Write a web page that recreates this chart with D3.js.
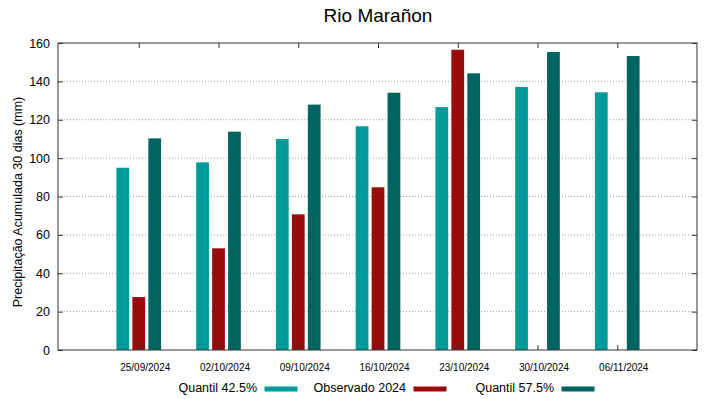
<!DOCTYPE html>
<html><head><meta charset="utf-8">
<script src="https://cdn.jsdelivr.net/npm/d3@7"></script>
<style>body{margin:0;background:#fff;} text{font-family:"Liberation Sans",Arial,sans-serif;}</style>
</head><body>
<svg id="c" width="719" height="399"></svg>
<script>
const categories = ["25/09/2024","02/10/2024","09/10/2024","16/10/2024","23/10/2024","30/10/2024","06/11/2024"];
const q425 = [95.0, 97.8, 110.0, 116.6, 126.6, 137.1, 134.3];
const obs2024 = [27.6, 53.0, 70.7, 84.8, 156.5, null, null];
const q575 = [110.3, 113.8, 127.9, 134.1, 144.2, 155.3, 153.2];
const yTicks = [0,20,40,60,80,100,120,140,160];
const seriesNames = ["Quantil 42.5%","Observado 2024","Quantil 57.5%"];
const colors = ["#009a9a","#990c0c","#006561"];

const svg = d3.select("#c");
const L=58, R=697, T=43, B=350;
const x = d3.scaleLinear().domain([-1,7]).range([59,697]);
const y = d3.scaleLinear().domain([0,160]).range([B,T]);

// grid
svg.append("g").selectAll("line").data(yTicks.filter(d=>d>0&&d<160)).join("line")
  .attr("x1",L).attr("x2",R).attr("y1",d=>y(d)).attr("y2",d=>y(d))
  .attr("stroke","#a0a0a0").attr("stroke-width",1).attr("stroke-dasharray","1,2");

const series=[q425,obs2024,q575];
const offs=[-0.2,0,0.2];
const bw = x(0.16)-x(0);
series.forEach((s,k)=>{
  svg.append("g").selectAll("rect").data(s.map((v,i)=>({v,i})).filter(d=>d.v!=null)).join("rect")
    .attr("x",d=>x(d.i+offs[k])-bw/2).attr("width",bw)
    .attr("y",d=>y(d.v)).attr("height",d=>y(0)-y(d.v))
    .attr("fill",colors[k]);
});

// axes
const yl = d3.axisLeft(y).tickValues(yTicks).tickSize(-5).tickPadding(8);
const gy = svg.append("g").attr("transform",`translate(${L},0)`).call(yl);
gy.selectAll("text").attr("font-size",12.5).attr("fill","#000");
const yr = d3.axisRight(y).tickValues(yTicks).tickSize(-5).tickFormat("");
svg.append("g").attr("transform",`translate(${R},0)`).call(yr);
const xb = d3.axisBottom(x).tickValues(d3.range(categories.length)).tickSize(-5).tickPadding(14).tickFormat(i=>categories[i]);
const gx = svg.append("g").attr("transform",`translate(0,${B})`).call(xb);
gx.selectAll("text").attr("font-size",10).attr("fill","#000").attr("dx",6);
const xt = d3.axisTop(x).tickValues(d3.range(categories.length)).tickSize(-5).tickFormat("");
svg.append("g").attr("transform",`translate(0,${T})`).call(xt);
svg.selectAll(".domain").remove();
svg.selectAll(".tick line").attr("stroke","#333");
svg.append("rect").attr("x",L).attr("y",T).attr("width",R-L).attr("height",B-T)
  .attr("fill","none").attr("stroke","#333").attr("stroke-width",1);

// title
svg.append("text").attr("x",378).attr("y",22).attr("text-anchor","middle").attr("font-size",19).text("Rio Marañon");
svg.append("text").attr("transform","translate(22,202) rotate(-90)").attr("text-anchor","middle").attr("font-size",12.5).text("Precipitação Acumulada 30 dias (mm)");

// legend
const leg=[{tx:257,sx:264.5},{tx:406,sx:413.5},{tx:554,sx:561.5}];
leg.forEach((l,k)=>{
  svg.append("text").attr("x",l.tx).attr("y",392).attr("text-anchor","end").attr("font-size",12.5).text(seriesNames[k]);
  svg.append("rect").attr("x",l.sx).attr("y",386.5).attr("width",33).attr("height",5).attr("fill",colors[k]);
});
</script>
</body></html>
